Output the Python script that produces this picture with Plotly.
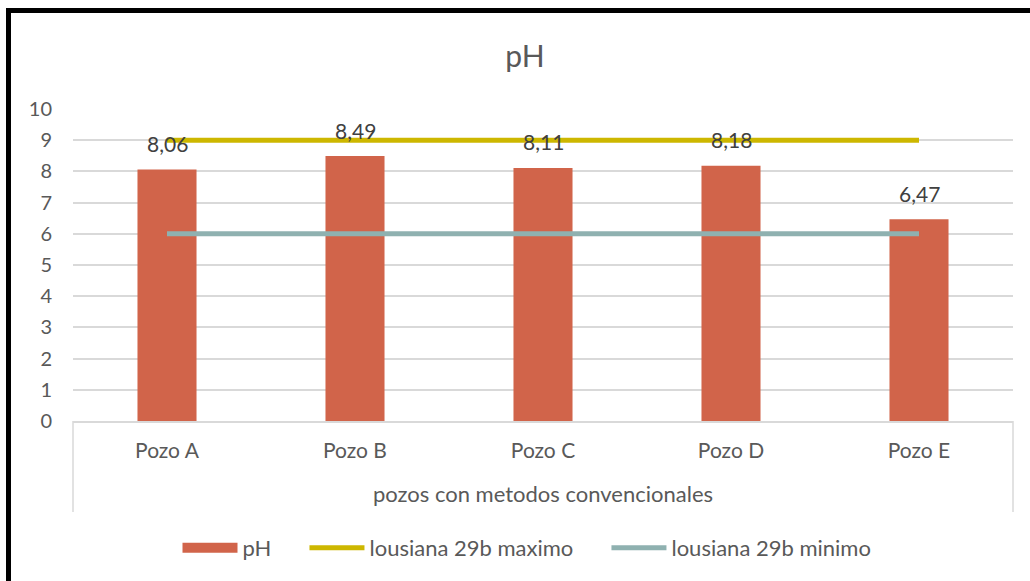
import plotly.graph_objects as go

categories = ["Pozo A", "Pozo B", "Pozo C", "Pozo D", "Pozo E"]
ph_values = [8.06, 8.49, 8.11, 8.18, 6.47]
max_limit = [9, 9, 9, 9, 9]
min_limit = [6, 6, 6, 6, 6]
y_ticks = [0, 1, 2, 3, 4, 5, 6, 7, 8, 9, 10]
series_names = ["pH", "lousiana 29b maximo", "lousiana 29b minimo"]

FONT = "Lato"
GRAY = "#595959"
BAR_COLOR = "#D1644A"
PAD = "\u00a0" * 5

fig = go.Figure()
fig.add_trace(go.Bar(
    x=categories, y=ph_values, name=series_names[0], legendgroup="ph", showlegend=False,
    marker=dict(color=BAR_COLOR, line=dict(width=0)),
))
# legend proxy giving the wide rectangular swatch of the bar series
fig.add_trace(go.Scatter(
    x=[None], y=[None], name=series_names[0] + PAD, legendgroup="ph", mode="lines",
    line=dict(color=BAR_COLOR, width=14),
))
fig.add_trace(go.Scatter(
    x=categories, y=max_limit, name=series_names[1] + PAD, mode="lines",
    line=dict(color="#CDB700", width=5),
))
fig.add_trace(go.Scatter(
    x=categories, y=min_limit, name=series_names[2], mode="lines",
    line=dict(color="#8FB1B0", width=5),
))

for c, v in zip(categories, ph_values):
    fig.add_annotation(
        x=c, y=v, text=f"{v:.2f}".replace(".", ","), showarrow=False,
        yshift=26, font=dict(family=FONT, size=21, color="#404040"),
    )

L, R, T, B = 73, 17, 109, 160
W, H = 1030, 581
pw, ph = W - L - R, H - T - B

def px(x):
    return (x - L) / pw

def py(y):
    return (H - B - y) / ph

shapes = [
    dict(type="line", xref="paper", yref="paper", x0=0, x1=0, y0=0, y1=py(512),
         line=dict(color="#D9D9D9", width=1.5)),
    dict(type="line", xref="paper", yref="paper", x0=1, x1=1, y0=0, y1=py(512),
         line=dict(color="#D9D9D9", width=1.5)),
    dict(type="rect", xref="paper", yref="paper", x0=px(8.5), x1=px(1045),
         y0=py(600), y1=py(10.5), line=dict(color="black", width=5),
         fillcolor="rgba(0,0,0,0)", layer="above"),
]

fig.update_layout(
    width=W, height=H,
    margin=dict(l=L, r=R, t=T, b=B, autoexpand=False),
    paper_bgcolor="white", plot_bgcolor="white",
    font=dict(family=FONT, color=GRAY, size=19),
    title=dict(text="pH", x=525 / W, xanchor="center", y=1 - 56 / H, yanchor="middle",
               font=dict(family=FONT, size=30, color=GRAY)),
    bargap=0.686,
    showlegend=True,
    legend=dict(orientation="h", x=px(527), xanchor="center", y=py(548), yanchor="middle",
                font=dict(family=FONT, size=22, color=GRAY), itemwidth=55,
                tracegroupgap=0),
    shapes=shapes,
)
fig.update_xaxes(
    type="category", showgrid=False, showline=True, linecolor="#D9D9D9", linewidth=1.5,
    ticks="", tickfont=dict(family=FONT, size=21, color=GRAY), ticklabelstandoff=10,
    title=dict(text="pozos con metodos convencionales", standoff=26,
               font=dict(family=FONT, size=22, color=GRAY)),
    fixedrange=True,
)
fig.update_yaxes(
    range=[0, 10], tickvals=y_ticks, showgrid=True, gridcolor="#D9D9D9", gridwidth=1.5,
    zeroline=False, showline=False, ticks="", ticklabelstandoff=20,
    tickfont=dict(family=FONT, size=20, color=GRAY), fixedrange=True,
)

fig.write_html("out.html", config={"displayModeBar": False},
               post_script="document.body.style.margin='0';")
